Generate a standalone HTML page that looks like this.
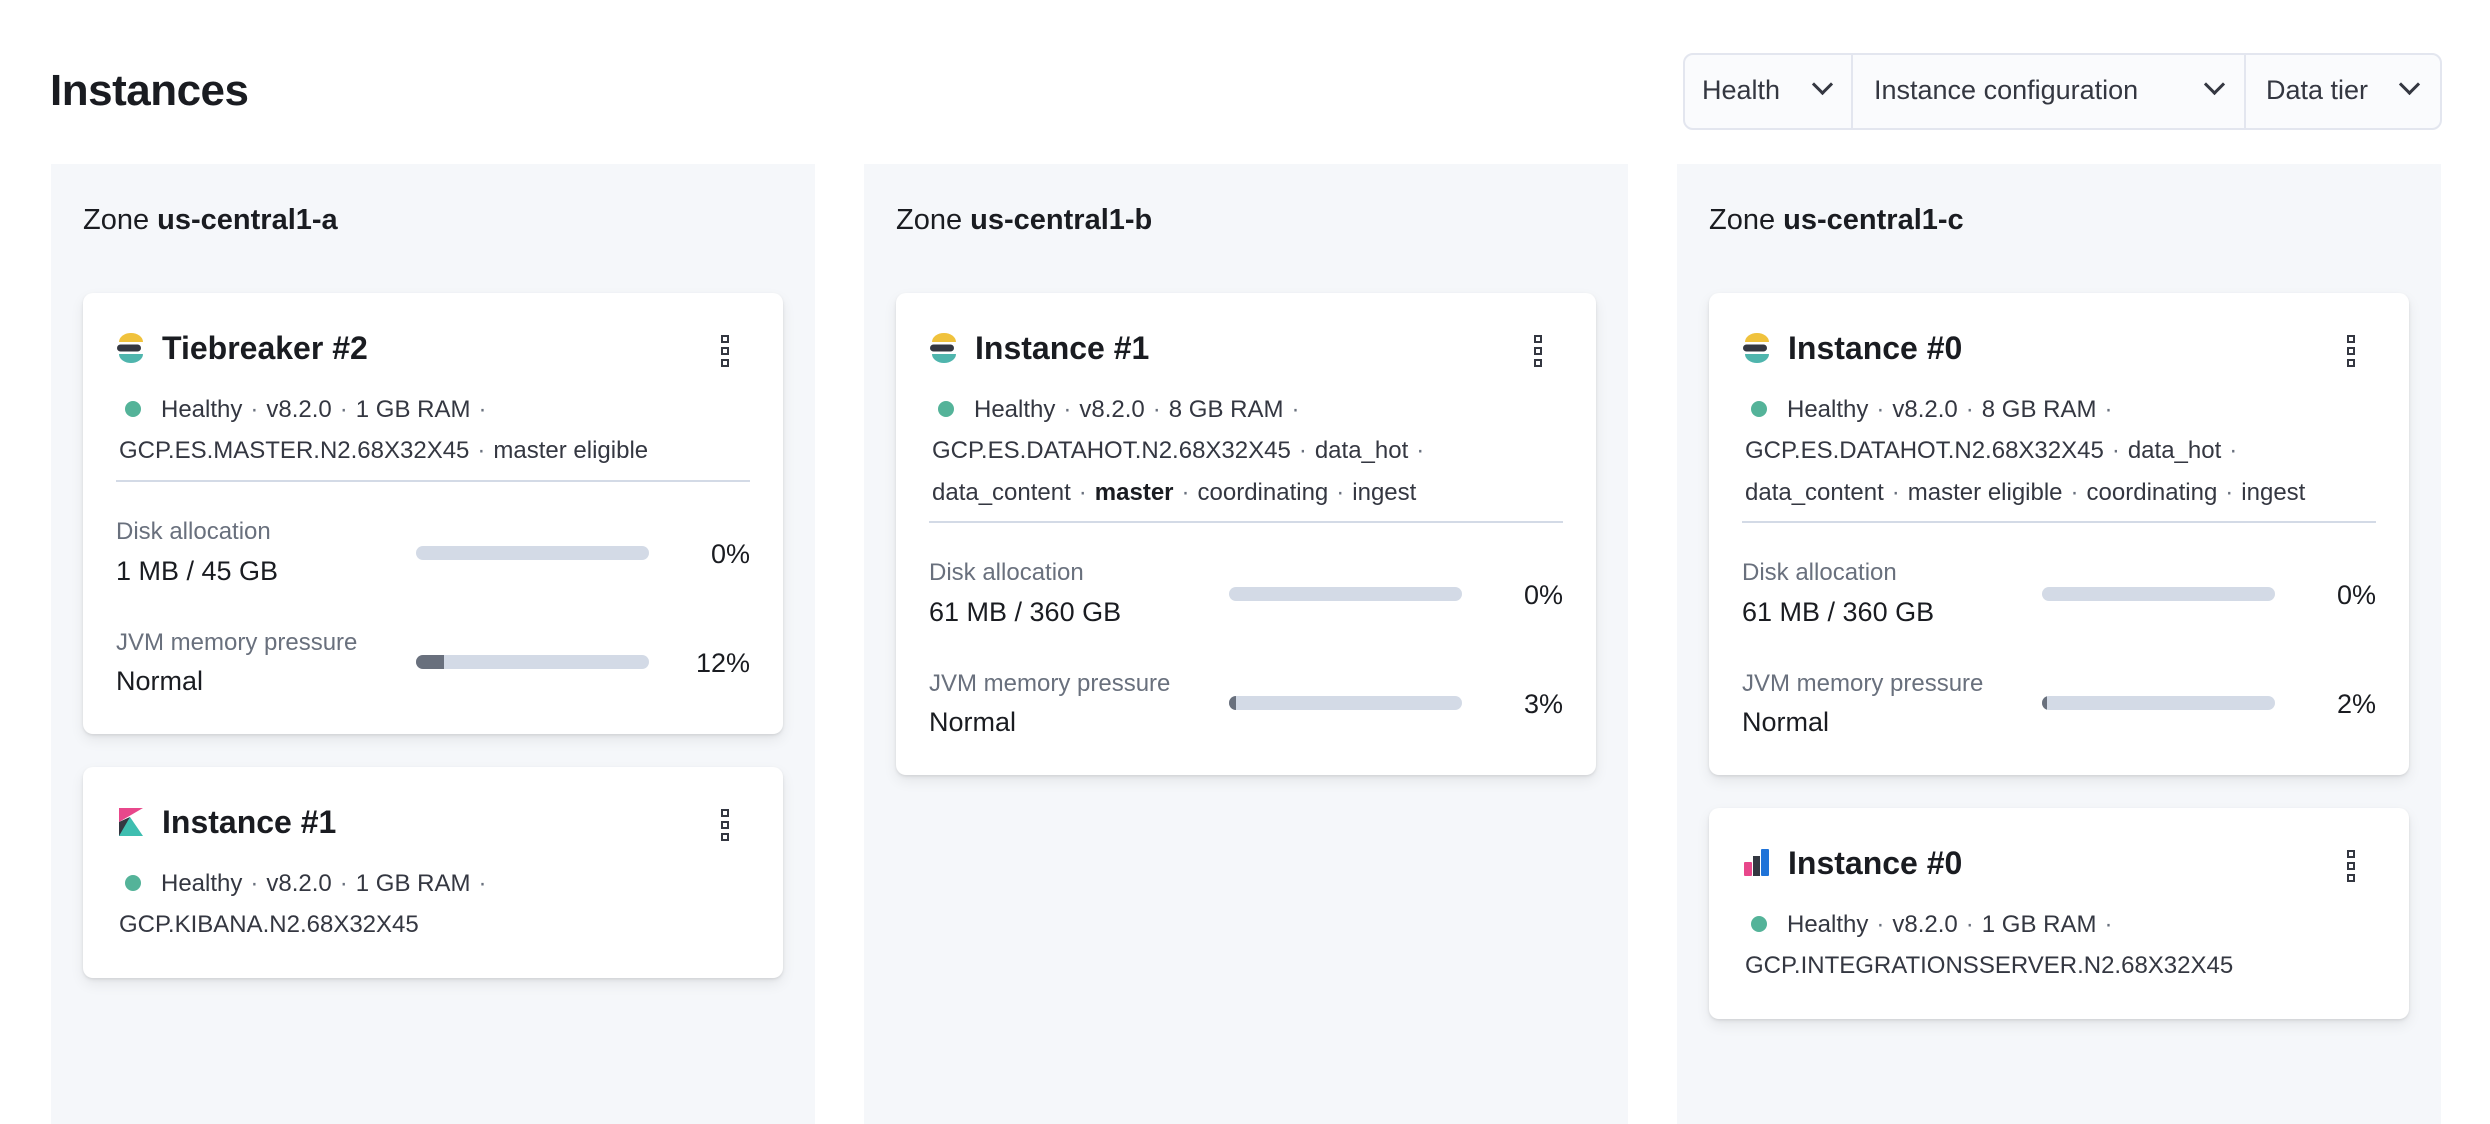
<!DOCTYPE html>
<html><head><meta charset="utf-8">
<style>
*{box-sizing:border-box;margin:0;padding:0}
body{width:2490px;height:1102px;background:#fff;font-family:"Liberation Sans",sans-serif;color:#1a1c21;position:relative;overflow:hidden}
.a{position:absolute;white-space:nowrap}
h1{position:absolute;left:50px;top:66px;font-size:44px;font-weight:bold;letter-spacing:-0.5px}
.filt{position:absolute;left:1683px;top:53px;width:759px;height:77px;border:2px solid #e3e6ef;border-radius:10px;background:#fafbfd;font-size:27px;color:#343741}
.filt .d{position:absolute;top:0;bottom:0;width:2px;background:#e3e6ef}
.chev{position:absolute;width:15px;height:15px;border-right:3px solid #343741;border-bottom:3px solid #343741;transform:rotate(45deg)}
.panel{position:absolute;top:164px;height:960px;width:764px;background:#f5f7fa}
.zone{position:absolute;left:32px;top:40px;font-size:29px;white-space:nowrap}
.card{position:absolute;background:#fff;border-radius:10px;box-shadow:0 2px 4px rgba(0,0,0,.06),0 6px 14px rgba(0,0,0,.07),0 1px 2px rgba(0,0,0,.05)}
.title{position:absolute;left:79px;font-size:32px;font-weight:bold}
.meta{position:absolute;left:36px;font-size:24px;color:#343741;white-space:nowrap}
.sep{color:#69707d;padding:0 8px}
.dot{display:inline-block;width:16px;height:16px;border-radius:50%;background:#54b399;margin-right:20px;margin-left:6px;vertical-align:0px}
.hr{position:absolute;left:33px;right:33px;height:2px;background:#d3dae6}
.lbl{position:absolute;left:33px;font-size:24px;color:#69707d}
.val{position:absolute;left:33px;font-size:27px}
.bar{position:absolute;left:333px;width:233px;height:14px;border-radius:7px;background:#d3dae6;overflow:hidden}
.bar i{position:absolute;left:0;top:0;bottom:0;background:#69707d}
.pct{position:absolute;right:33px;font-size:27px}
.keb{position:absolute;right:54px;width:8px}
.keb b{display:block;width:8px;height:8px;border:2px solid #343741;margin-bottom:4px}
.es{position:absolute;left:33px;width:30px;height:30px}
</style></head><body>
<h1>Instances</h1>
<div class="filt">
 <span class="a" style="left:17px;top:20px">Health</span><div class="chev" style="left:130px;top:22px"></div>
 <div class="d" style="left:166px"></div>
 <span class="a" style="left:189px;top:20px">Instance configuration</span><div class="chev" style="left:522px;top:22px"></div>
 <div class="d" style="left:559px"></div>
 <span class="a" style="left:581px;top:20px">Data tier</span><div class="chev" style="left:717px;top:22px"></div>
</div>

<div class="panel" style="left:51px">
 <div class="zone">Zone <b>us-central1-a</b></div>
 <div class="card" style="left:32px;top:129px;width:700px;height:441px">
  <svg class="es" style="top:40px" viewBox="0 0 30 30"><path d="M3 9 A12 9 0 0 1 27 9 Z" fill="#f0c23c"/><rect x="1" y="11.5" width="24" height="7" rx="3.5" fill="#343741"/><path d="M3 21 A12 9 0 0 0 27 21 Z" fill="#4fb5ad"/></svg>
  <div class="title" style="top:37px">Tiebreaker #2</div>
  <div class="keb" style="top:42px"><b></b><b></b><b></b></div>
  <div class="meta" style="top:103px"><span class="dot"></span>Healthy<span class="sep">·</span>v8.2.0<span class="sep">·</span>1 GB RAM<span class="sep">·</span></div>
  <div class="meta" style="top:144px">GCP.ES.MASTER.N2.68X32X45<span class="sep">·</span>master eligible</div>
  <div class="hr" style="top:187px"></div>
  <div class="lbl" style="top:225px">Disk allocation</div>
  <div class="val" style="top:263px">1 MB / 45 GB</div>
  <div class="bar" style="top:253px"></div>
  <div class="pct" style="top:246px">0%</div>
  <div class="lbl" style="top:336px">JVM memory pressure</div>
  <div class="val" style="top:373px">Normal</div>
  <div class="bar" style="top:362px"><i style="width:12%"></i></div>
  <div class="pct" style="top:355px">12%</div>
 </div>
 <div class="card" style="left:32px;top:603px;width:700px;height:211px">
  <svg class="es" style="top:40px" viewBox="0 0 30 30"><path d="M3 1 L27 1 L3 15 Z" fill="#e8478b"/><path d="M3 17 L14 10 L27 29 L3 29 Z" fill="#3ebeb0"/><path d="M3 15 L14 10 L3 29 Z" fill="#343741"/></svg>
  <div class="title" style="top:37px">Instance #1</div>
  <div class="keb" style="top:42px"><b></b><b></b><b></b></div>
  <div class="meta" style="top:103px"><span class="dot"></span>Healthy<span class="sep">·</span>v8.2.0<span class="sep">·</span>1 GB RAM<span class="sep">·</span></div>
  <div class="meta" style="top:144px">GCP.KIBANA.N2.68X32X45</div>
 </div>
</div>

<div class="panel" style="left:864px">
 <div class="zone">Zone <b>us-central1-b</b></div>
 <div class="card" style="left:32px;top:129px;width:700px;height:482px">
  <svg class="es" style="top:40px" viewBox="0 0 30 30"><path d="M3 9 A12 9 0 0 1 27 9 Z" fill="#f0c23c"/><rect x="1" y="11.5" width="24" height="7" rx="3.5" fill="#343741"/><path d="M3 21 A12 9 0 0 0 27 21 Z" fill="#4fb5ad"/></svg>
  <div class="title" style="top:37px">Instance #1</div>
  <div class="keb" style="top:42px"><b></b><b></b><b></b></div>
  <div class="meta" style="top:103px"><span class="dot"></span>Healthy<span class="sep">·</span>v8.2.0<span class="sep">·</span>8 GB RAM<span class="sep">·</span></div>
  <div class="meta" style="top:144px">GCP.ES.DATAHOT.N2.68X32X45<span class="sep">·</span>data_hot<span class="sep">·</span></div>
  <div class="meta" style="top:186px">data_content<span class="sep">·</span><b style="color:#1a1c21">master</b><span class="sep">·</span>coordinating<span class="sep">·</span>ingest</div>
  <div class="hr" style="top:228px"></div>
  <div class="lbl" style="top:266px">Disk allocation</div>
  <div class="val" style="top:304px">61 MB / 360 GB</div>
  <div class="bar" style="top:294px"></div>
  <div class="pct" style="top:287px">0%</div>
  <div class="lbl" style="top:377px">JVM memory pressure</div>
  <div class="val" style="top:414px">Normal</div>
  <div class="bar" style="top:403px"><i style="width:3%"></i></div>
  <div class="pct" style="top:396px">3%</div>
 </div>
</div>

<div class="panel" style="left:1677px">
 <div class="zone">Zone <b>us-central1-c</b></div>
 <div class="card" style="left:32px;top:129px;width:700px;height:482px">
  <svg class="es" style="top:40px" viewBox="0 0 30 30"><path d="M3 9 A12 9 0 0 1 27 9 Z" fill="#f0c23c"/><rect x="1" y="11.5" width="24" height="7" rx="3.5" fill="#343741"/><path d="M3 21 A12 9 0 0 0 27 21 Z" fill="#4fb5ad"/></svg>
  <div class="title" style="top:37px">Instance #0</div>
  <div class="keb" style="top:42px"><b></b><b></b><b></b></div>
  <div class="meta" style="top:103px"><span class="dot"></span>Healthy<span class="sep">·</span>v8.2.0<span class="sep">·</span>8 GB RAM<span class="sep">·</span></div>
  <div class="meta" style="top:144px">GCP.ES.DATAHOT.N2.68X32X45<span class="sep">·</span>data_hot<span class="sep">·</span></div>
  <div class="meta" style="top:186px">data_content<span class="sep">·</span>master eligible<span class="sep">·</span>coordinating<span class="sep">·</span>ingest</div>
  <div class="hr" style="top:228px"></div>
  <div class="lbl" style="top:266px">Disk allocation</div>
  <div class="val" style="top:304px">61 MB / 360 GB</div>
  <div class="bar" style="top:294px"></div>
  <div class="pct" style="top:287px">0%</div>
  <div class="lbl" style="top:377px">JVM memory pressure</div>
  <div class="val" style="top:414px">Normal</div>
  <div class="bar" style="top:403px"><i style="width:2%"></i></div>
  <div class="pct" style="top:396px">2%</div>
 </div>
 <div class="card" style="left:32px;top:644px;width:700px;height:211px">
  <svg class="es" style="top:40px" viewBox="0 0 30 30"><rect x="2" y="14" width="8" height="14" rx="1" fill="#e8478b"/><rect x="11" y="8" width="7" height="20" fill="#343741"/><rect x="19" y="1" width="8" height="27" rx="1" fill="#1f73d8"/></svg>
  <div class="title" style="top:37px">Instance #0</div>
  <div class="keb" style="top:42px"><b></b><b></b><b></b></div>
  <div class="meta" style="top:103px"><span class="dot"></span>Healthy<span class="sep">·</span>v8.2.0<span class="sep">·</span>1 GB RAM<span class="sep">·</span></div>
  <div class="meta" style="top:144px">GCP.INTEGRATIONSSERVER.N2.68X32X45</div>
 </div>
</div>
</body></html>
